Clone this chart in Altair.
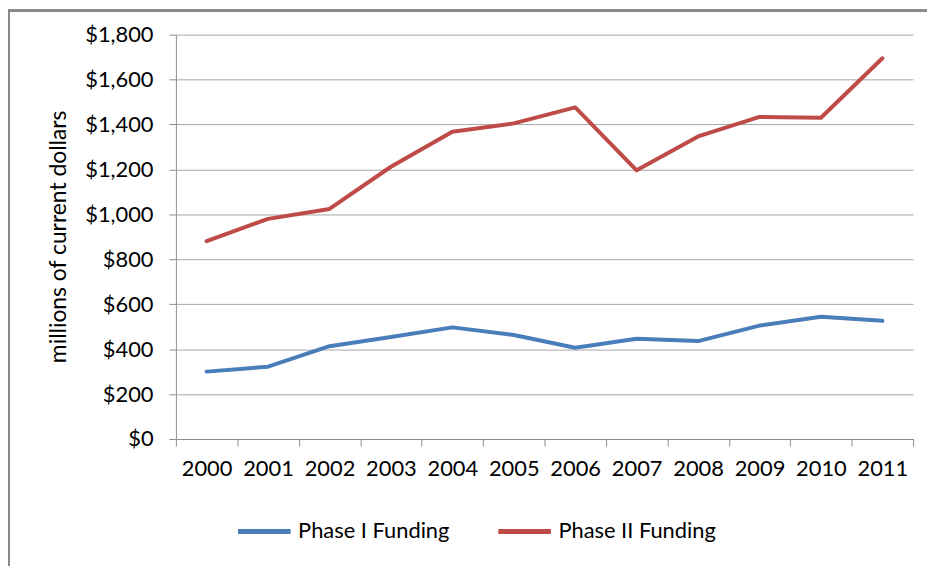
import altair as alt
import pandas as pd

years = ["2000", "2001", "2002", "2003", "2004", "2005", "2006", "2007", "2008", "2009", "2010", "2011"]
phase1 = [300, 322, 413, 454, 497, 463, 406, 446, 436, 505, 544, 526]
phase2 = [881, 980, 1024, 1212, 1368, 1405, 1476, 1196, 1347, 1434, 1430, 1695]
series_names = ["Phase I Funding", "Phase II Funding"]
series_colors = ["#4a7ebb", "#be4b48"]
y_ticks = [0, 200, 400, 600, 800, 1000, 1200, 1400, 1600, 1800]

rows = []
for i, y in enumerate(years):
    rows.append({"year": y, "series": series_names[0], "value": phase1[i]})
    rows.append({"year": y, "series": series_names[1], "value": phase2[i]})
df = pd.DataFrame(rows)

FONT = "Lato"
W, H = 742, 407

lines = alt.Chart(df).mark_line(strokeWidth=4, strokeCap="round", strokeJoin="round").encode(
    x=alt.X("year:N", sort=years,
            scale=alt.Scale(paddingInner=0, paddingOuter=0),
            axis=alt.Axis(title=None, labelAngle=0, tickBand="extent", ticks=True, tickSize=7,
                          tickColor="#8c8c8c", domainColor="#8c8c8c", labelFontSize=22,
                          labelPadding=13, labelColor="#000000", labelFont=FONT, grid=False)),
    y=alt.Y("value:Q", scale=alt.Scale(domain=[0, 1800], nice=False),
            axis=alt.Axis(values=y_ticks, format="$,.0f", title="millions of current dollars",
                          titleFontSize=23, titleFont=FONT, titleFontWeight="normal",
                          titleColor="#000000", titleX=-118, titleY=203, titleAlign="center",
                          titleBaseline="middle", titleAngle=-90,
                          labelFontSize=22, labelFont=FONT, labelColor="#000000", labelPadding=16,
                          tickSize=7, tickColor="#8c8c8c", domainColor="#8c8c8c",
                          gridColor="#a6a6a6", gridWidth=1)),
    color=alt.Color("series:N", sort=series_names,
                    scale=alt.Scale(domain=series_names, range=series_colors),
                    legend=alt.Legend(title=None, orient="none", legendX=60, legendY=471,
                                      direction="horizontal", symbolType="stroke",
                                      symbolSize=2800, symbolStrokeWidth=5, labelFontSize=22,
                                      labelFont=FONT, labelColor="#000000", labelOffset=5,
                                      columnPadding=38)),
)

border_left = alt.Chart(df).mark_rule(color="#8a8a8a", strokeWidth=2).encode(
    x=alt.value(-168), y=alt.value(-25), y2=alt.value(540)
)
border_top = alt.Chart(df).mark_rule(color="#8a8a8a", strokeWidth=2).encode(
    x=alt.value(-169), x2=alt.value(770), y=alt.value(-24)
)

chart = alt.layer(border_left, border_top, lines).properties(
    width=W, height=H,
    padding={"left": 169, "top": 25, "right": 14, "bottom": 126},
    autosize=alt.AutoSizeParams(type="none"),
    background="#ffffff",
).configure_view(stroke=None)

chart.save("out.html", embed_options={"renderer": "svg", "actions": False})
